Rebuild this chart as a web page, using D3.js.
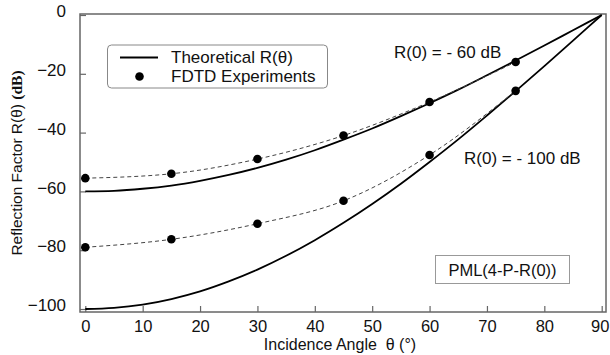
<!DOCTYPE html>
<html lang="en">
<head>
<meta charset="UTF-8">
<title>PML reflection factor</title>
<style>
  body { margin: 0; background: #fff; }
  svg text { font-family: "Liberation Sans", Arial, sans-serif; fill: #111; }
</style>
</head>
<body>
<script src="https://d3js.org/d3.v7.min.js"></script>
<script>
// theoretical curves, read at every 5 degrees
const thetaTheory = [0, 5, 10, 15, 20, 25, 30, 35, 40, 45, 50, 55, 60, 65, 70, 75, 80, 85, 90];
const theory60 = [-60, -59.8, -59.1, -58, -56.4, -54.4, -52, -49.2, -46, -42.4, -38.6, -34.4, -30, -25.4, -20.5, -15.5, -10.4, -5.2, 0];
const theory100 = [-100, -99.6, -98.5, -96.6, -94, -90.6, -86.6, -81.9, -76.6, -70.7, -64.3, -57.4, -50, -42.3, -34.2, -25.9, -17.4, -8.7, 0];

// FDTD experiments
const thetaFdtd = [0, 15, 30, 45, 60, 75];
const fdtd60 = [-55.5, -54, -49, -41, -29.6, -16];
const fdtd100 = [-79, -76.3, -71, -63.2, -47.6, -25.8];

const xTicks = [0, 10, 20, 30, 40, 50, 60, 70, 80, 90];
const yTicks = [0, -20, -40, -60, -80, -100];

const width = 610, height = 355;
const frame = { left: 80, right: 606, top: 14, bottom: 312 };

const svg = d3.select("body").append("svg")
    .attr("width", width)
    .attr("height", height);

const x = d3.scaleLinear().domain([0, 90]).range([85.3, 601.7]);
const y = d3.scaleLinear().domain([-100, 0]).range([309, 15]);

// frame
svg.append("rect")
    .attr("x", frame.left).attr("y", frame.top)
    .attr("width", frame.right - frame.left).attr("height", frame.bottom - frame.top)
    .attr("fill", "none")
    .attr("stroke", "#666")
    .attr("stroke-width", 1.5);

// inward ticks
svg.append("g")
    .attr("transform", `translate(0,${frame.bottom})`)
    .call(d3.axisBottom(x).tickValues(xTicks).tickSizeInner(-6).tickSizeOuter(0).tickPadding(8))
    .call(g => g.select(".domain").remove())
    .call(g => g.selectAll("line").attr("stroke", "#666").attr("stroke-width", 1.2))
    .call(g => g.selectAll("text").attr("font-size", 16.5).attr("fill", "#111")
        .attr("dx", d => d === 90 ? -2 : 0)
        .attr("font-family", "Liberation Sans, Arial, sans-serif"));

svg.append("g")
    .attr("transform", `translate(${frame.left},0)`)
    .call(d3.axisLeft(y).tickValues(yTicks).tickSizeInner(-6).tickSizeOuter(0).tickPadding(14))
    .call(g => g.select(".domain").remove())
    .call(g => g.selectAll("line").attr("stroke", "#666").attr("stroke-width", 1.2))
    .call(g => g.selectAll("text").attr("font-size", 17).attr("fill", "#111")
        .attr("dy", "0.1em")
        .attr("font-family", "Liberation Sans, Arial, sans-serif"));

// axis titles
svg.append("text")
    .attr("x", 340).attr("y", 350)
    .attr("text-anchor", "middle")
    .attr("font-size", 16)
    .attr("xml:space", "preserve")
    .text("Incidence Angle  θ (°)");

const yt = svg.append("text")
    .attr("transform", "translate(22,163) rotate(-90)")
    .attr("text-anchor", "middle")
    .attr("font-size", 15.5);
yt.append("tspan").text("Reflection Factor R(θ) ");
yt.append("tspan").attr("font-weight", "bold")
    .attr("font-family", "Liberation Serif, Times New Roman, serif")
    .text("(dB)");

// curves
const theoryLine = d3.line()
    .x(d => x(d[0])).y(d => y(d[1]))
    .curve(d3.curveMonotoneX);

const dashLine = d3.line()
    .x(d => x(d[0])).y(d => y(d[1]))
    .curve(d3.curveMonotoneX);

[theory60, theory100].forEach(s => {
    svg.append("path")
        .datum(thetaTheory.map((t, i) => [t, s[i]]))
        .attr("d", theoryLine)
        .attr("fill", "none")
        .attr("stroke", "#000")
        .attr("stroke-width", 1.8);
});

[fdtd60, fdtd100].forEach(s => {
    const pts = thetaFdtd.map((t, i) => [t, s[i]]);
    svg.append("path")
        .datum(pts)
        .attr("d", dashLine)
        .attr("fill", "none")
        .attr("stroke", "#444")
        .attr("stroke-width", 1)
        .attr("stroke-dasharray", "4,3");
    svg.selectAll(null)
        .data(pts)
        .enter()
        .append("circle")
        .attr("cx", d => x(d[0]))
        .attr("cy", d => y(d[1]))
        .attr("r", 4.3)
        .attr("fill", "#000");
});

// legend
svg.append("rect")
    .attr("x", 107.5).attr("y", 45)
    .attr("width", 220).attr("height", 43)
    .attr("rx", 4)
    .attr("fill", "#fff")
    .attr("stroke", "#888")
    .attr("stroke-width", 1);

svg.append("line")
    .attr("x1", 120).attr("x2", 158)
    .attr("y1", 57.5).attr("y2", 57.5)
    .attr("stroke", "#000").attr("stroke-width", 1.8);
svg.append("circle")
    .attr("cx", 139.5).attr("cy", 76.5).attr("r", 4.3).attr("fill", "#000");

svg.append("text").attr("x", 171).attr("y", 63).attr("font-size", 17).text("Theoretical R(θ)");
svg.append("text").attr("x", 171).attr("y", 82).attr("font-size", 17).text("FDTD Experiments");

// annotations
svg.append("text").attr("x", 394).attr("y", 58).attr("font-size", 17).text("R(0) = - 60 dB");
svg.append("text").attr("x", 464).attr("y", 164).attr("font-size", 17).text("R(0) = - 100 dB");

svg.append("rect")
    .attr("x", 435.5).attr("y", 255.5)
    .attr("width", 134).attr("height", 28)
    .attr("fill", "#fff")
    .attr("stroke", "#999")
    .attr("stroke-width", 1);
svg.append("text").attr("x", 502.5).attr("y", 275.5)
    .attr("text-anchor", "middle").attr("font-size", 16.5)
    .text("PML(4-P-R(0))");
</script>
</body>
</html>
